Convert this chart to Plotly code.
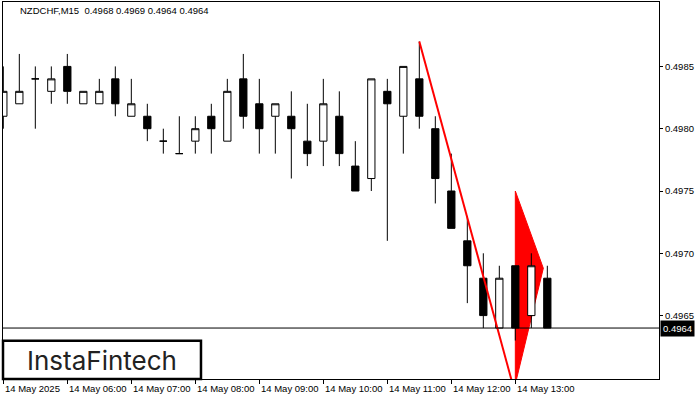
import pandas as pd
import plotly.graph_objects as go

# ---- data -------------------------------------------------------------
start_time = "2025-05-14 05:00"
opens  = [0.4981, 0.4982, 0.4984, 0.4983, 0.4985, 0.4982, 0.4982, 0.4984, 0.4981, 0.4981,
          0.4979, 0.4978, 0.4979, 0.4981, 0.4979, 0.4984, 0.4982, 0.4981, 0.4981, 0.4979,
          0.4979, 0.4981, 0.4977, 0.4976, 0.4983, 0.4981, 0.4984, 0.4980, 0.4975, 0.4971,
          0.4968, 0.4964, 0.4969, 0.4965, 0.4968]
highs  = [0.4985, 0.4986, 0.4985, 0.4985, 0.4986, 0.4983, 0.4984, 0.4985, 0.4984, 0.4982,
          0.4980, 0.4981, 0.4981, 0.4982, 0.4984, 0.4986, 0.4984, 0.4982, 0.4983, 0.4982,
          0.4984, 0.4983, 0.4979, 0.4984, 0.4984, 0.4985, 0.4987, 0.4981, 0.4978, 0.4973,
          0.4970, 0.4969, 0.4969, 0.4970, 0.4969]
lows   = [0.4980, 0.4982, 0.4980, 0.4982, 0.4982, 0.4982, 0.4982, 0.4981, 0.4981, 0.4979,
          0.4978, 0.4978, 0.4978, 0.4978, 0.4979, 0.4980, 0.4978, 0.4978, 0.4976, 0.4977,
          0.4977, 0.4977, 0.4975, 0.4975, 0.4971, 0.4978, 0.4980, 0.4974, 0.4972, 0.4966,
          0.4964, 0.4964, 0.4963, 0.4964, 0.4964]
closes = [0.4983, 0.4983, 0.4984, 0.4984, 0.4983, 0.4983, 0.4983, 0.4982, 0.4982, 0.4980,
          0.4979, 0.4978, 0.4980, 0.4980, 0.4983, 0.4981, 0.4980, 0.4982, 0.4980, 0.4978,
          0.4982, 0.4978, 0.4975, 0.4984, 0.4982, 0.4985, 0.4981, 0.4976, 0.4972, 0.4969,
          0.4965, 0.4968, 0.4964, 0.4969, 0.4964]

current_price = 0.4964
title_text = "NZDCHF,M15  0.4968 0.4969 0.4964 0.4964"

# pattern drawing (flag pole line and pennant triangle)
pole_x = ["2025-05-14 11:30", "2025-05-14 13:00"]
pole_y = [0.4987, 0.49587]
pennant_x = ["2025-05-14 13:00", "2025-05-14 13:26:15", "2025-05-14 13:00"]
pennant_y = [0.4975, 0.49688, 0.49595]

# axis ticks
y_tickvals = [0.4965, 0.4970, 0.4975, 0.4980, 0.4985]
x_tickvals = ["2025-05-14 05:00", "2025-05-14 06:00", "2025-05-14 07:00", "2025-05-14 08:00",
              "2025-05-14 09:00", "2025-05-14 10:00", "2025-05-14 11:00", "2025-05-14 12:00",
              "2025-05-14 13:00"]
x_ticktext = ["14 May 2025", "14 May 06:00", "14 May 07:00", "14 May 08:00", "14 May 09:00",
              "14 May 10:00", "14 May 11:00", "14 May 12:00", "14 May 13:00"]

x_range = ["2025-05-14 04:59:42", "2025-05-14 15:14:42"]
y_range = [0.495991, 0.499017]

# ---- figure ----------------------------------------------------------
times = pd.date_range(start_time, periods=len(opens), freq="15min")
FONT = "Liberation Sans"

fig = go.Figure()

fig.add_trace(go.Candlestick(
    x=times, open=opens, high=highs, low=lows, close=closes,
    increasing=dict(line=dict(color="black", width=1), fillcolor="white"),
    decreasing=dict(line=dict(color="black", width=1), fillcolor="black"),
    whiskerwidth=0, hoverinfo="skip", showlegend=False))

fig.add_trace(go.Scatter(
    x=pole_x, y=pole_y, mode="lines",
    line=dict(color="#ff0000", width=2),
    hoverinfo="skip", showlegend=False))

annotations = []
for tv, tt in zip(x_tickvals, x_ticktext):
    annotations.append(dict(
        x=tv, xref="x", y=-0.025, yref="paper", text=tt, showarrow=False,
        xanchor="left", yanchor="middle", xshift=0,
        font=dict(family=FONT, size=9.5, color="black")))

annotations.append(dict(
    x=0.0229, xref="paper", y=0.977, yref="paper", text=title_text, showarrow=False,
    xanchor="left", yanchor="middle", font=dict(family=FONT, size=9.5, color="black")))

annotations.append(dict(
    x=1, xref="paper", y=current_price, yref="y", text=str(current_price), showarrow=False,
    xanchor="left", yanchor="middle", xshift=1, bgcolor="black", borderpad=2,
    font=dict(family=FONT, size=9.5, color="white")))

annotations.append(dict(
    x=0.1505, xref="paper", y=0.05, yref="paper", text="InstaFintech", showarrow=False,
    xanchor="center", yanchor="middle",
    font=dict(family="Inter", size=26, color="#222222")))

# triangle path built from the pennant data (dates use '_' in shape paths)
pts = [f"{x.replace(' ', '_')},{y}" for x, y in zip(pennant_x, pennant_y)]
pennant_path = "M" + " L".join(pts) + " Z"

shapes = [
    dict(type="path", xref="x", yref="y", path=pennant_path, layer="below",
         fillcolor="#ff0000", line=dict(color="#ff0000", width=1)),
    dict(type="line", xref="paper", x0=0, x1=1, yref="y", y0=current_price, y1=current_price,
         line=dict(color="black", width=1)),
    dict(type="rect", xref="paper", x0=0, x1=0.3018, yref="paper", y0=0.0, y1=0.1016,
         fillcolor="white", line=dict(color="black", width=2.5), layer="above"),
]

fig.update_layout(
    width=700, height=400,
    margin=dict(l=3, r=41, t=2, b=21, autoexpand=False),
    paper_bgcolor="white", plot_bgcolor="white",
    showlegend=False, boxgap=0.35,
    annotations=annotations, shapes=shapes,
    xaxis=dict(type="date", range=x_range, rangeslider=dict(visible=False), automargin=False,
               tickvals=x_tickvals, showticklabels=False, ticks="outside", ticklen=4,
               tickcolor="black", showgrid=False, zeroline=False,
               showline=True, mirror=True, linecolor="black", linewidth=1),
    yaxis=dict(range=y_range, side="right", tickvals=y_tickvals, tickformat=".4f",
               automargin=False,
               ticks="outside", ticklen=3, tickcolor="black", showgrid=False, zeroline=False,
               showline=True, mirror=True, linecolor="black", linewidth=1,
               tickfont=dict(family=FONT, size=9.5, color="black")),
)

fig.write_html("out.html", config={"displayModeBar": False},
               post_script="document.body.style.margin='0';document.body.style.padding='0';")
